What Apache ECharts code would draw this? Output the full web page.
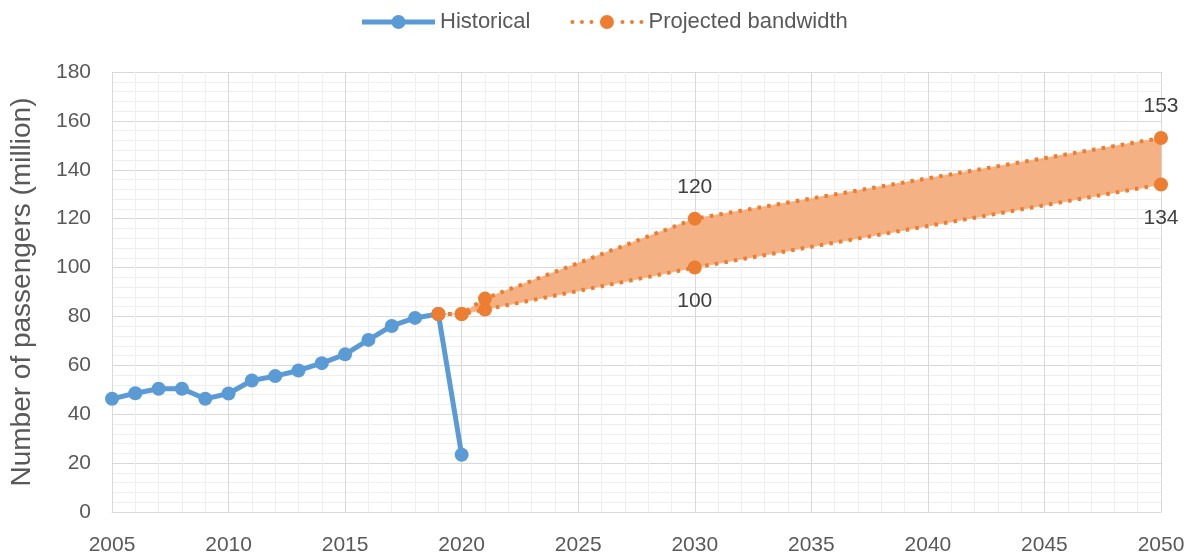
<!DOCTYPE html>
<html>
<head>
<meta charset="utf-8">
<script src="https://cdn.jsdelivr.net/npm/echarts@6/dist/echarts.min.js"></script>
<style>html,body{margin:0;padding:0;background:#fff}#c{width:1193px;height:558px}</style>
</head>
<body>
<div id="c"></div>
<script>
const histYears = [2005,2006,2007,2008,2009,2010,2011,2012,2013,2014,2015,2016,2017,2018,2019,2020];
const histValues = [46.3,48.6,50.4,50.4,46.3,48.5,53.8,55.6,57.9,60.9,64.5,70.4,76.1,79.4,81.0,23.4];
const projYears = [2019,2020,2021,2030,2050];
const projUpper = [81.0,81.0,87.3,120,153];
const projLower = [81.0,81.0,82.8,100,134];
const labelYears = [2030,2050];

const BLUE = '#5b9bd5', ORANGE = '#ed7d31', FILL = '#f4b183';
const FONT = 'Liberation Sans';

const chart = echarts.init(document.getElementById('c'));
const histData = histYears.map((y,i)=>[y,histValues[i]]);
const lowerData = projYears.map((y,i)=>[y,projLower[i]]);
const upperData = projYears.map((y,i)=>[y,projUpper[i]]);
const bandData = projYears.map((y,i)=>[y,projLower[i],projUpper[i]]);

const dotted = {color:ORANGE,width:4,type:[3.5,6.2],cap:'butt'};

function circ(cx,cy,r){return 'M'+(cx-r)+','+cy+' a'+r+','+r+' 0 1,1 '+(2*r)+',0 a'+r+','+r+' 0 1,1 '+(-2*r)+',0 Z ';}
const histIcon = 'path://M0,4.5 L73,4.5 L73,9.5 L0,9.5 Z ' + circ(36.5,7,7);
const projIcon = 'path://' + circ(2,7,2) + circ(11.5,7,2) + circ(21,7,2) + circ(36.5,7,7) + circ(52,7,2) + circ(61.5,7,2) + circ(71,7,2);

chart.setOption({
  animation:false,
  textStyle:{fontFamily:FONT},
  legend:{
    top:6, left:357, itemWidth:73, itemHeight:14, itemGap:40,
    textStyle:{fontSize:22,color:'#595959',fontFamily:FONT},
    data:[{name:'Historical',icon:histIcon},{name:'Projected bandwidth',icon:projIcon}]
  },
  grid:{left:111,right:32,top:72,bottom:46},
  xAxis:{
    type:'value', min:2005, max:2050, interval:5,
    axisLine:{show:true,lineStyle:{color:'#d9d9d9'}},
    axisTick:{show:false},
    axisLabel:{fontSize:21,color:'#595959',margin:23,fontFamily:FONT,formatter:v=>String(v)},
    splitLine:{show:true,lineStyle:{color:'#d9d9d9',width:1}},
    minorTick:{show:false,splitNumber:5},
    minorSplitLine:{show:true,lineStyle:{color:'#efefef',width:1}}
  },
  yAxis:{
    type:'value', min:0, max:180, interval:20,
    name:'Number of passengers (million)', nameLocation:'middle', nameGap:76,
    nameTextStyle:{fontSize:28,color:'#595959',fontFamily:FONT},
    axisLine:{show:false}, axisTick:{show:false},
    axisLabel:{fontSize:21,color:'#595959',margin:21,fontFamily:FONT},
    splitLine:{show:true,lineStyle:{color:'#d9d9d9',width:1}},
    minorTick:{show:false,splitNumber:5},
    minorSplitLine:{show:true,lineStyle:{color:'#efefef',width:1}}
  },
  series:[
    {
      type:'custom', name:'band', data:bandData, z:1, silent:true,
      encode:{x:0,y:[1,2]},
      renderItem:(params,api)=>{
        const i = params.dataIndex;
        if (i===0) return null;
        const p = bandData[i-1], c = bandData[i];
        const pts = [api.coord([p[0],p[1]]),api.coord([c[0],c[1]]),api.coord([c[0],c[2]]),api.coord([p[0],p[2]])];
        return {type:'polygon',shape:{points:pts},style:{fill:FILL,stroke:FILL,lineWidth:0.8}};
      }
    },
    {
      name:'Projected bandwidth', type:'line', data:lowerData,
      symbol:'circle', symbolSize:14, z:3,
      lineStyle:dotted, itemStyle:{color:ORANGE},
      label:{show:true,position:'bottom',distance:16,fontSize:21,color:'#404040',fontFamily:FONT,
        formatter:p=> labelYears.includes(p.value[0]) ? String(p.value[1]) : ''}
    },
    {
      name:'Projected bandwidth', type:'line', data:upperData,
      symbol:'circle', symbolSize:14, z:3,
      lineStyle:dotted, itemStyle:{color:ORANGE},
      label:{show:true,position:'top',distance:14,fontSize:21,color:'#404040',fontFamily:FONT,
        formatter:p=> labelYears.includes(p.value[0]) ? String(p.value[1]) : ''}
    },
    {
      name:'Historical', type:'line', data:histData,
      symbol:'circle', symbolSize:14, z:2,
      lineStyle:{color:BLUE,width:5},
      itemStyle:{color:BLUE}
    }
  ]
});
</script>
</body>
</html>
